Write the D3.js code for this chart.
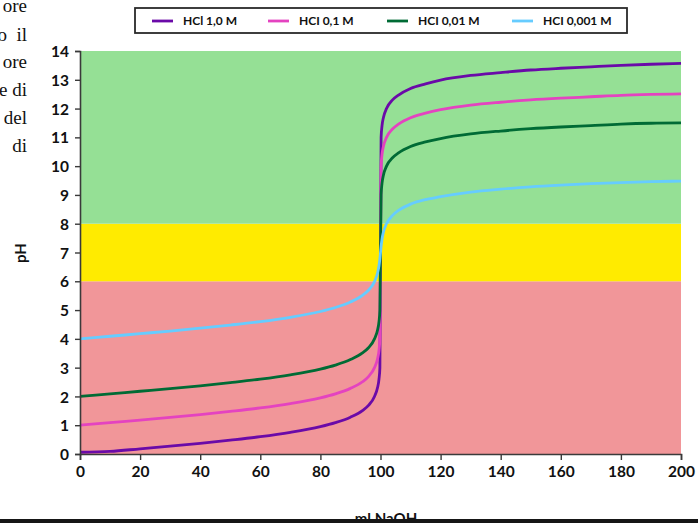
<!DOCTYPE html>
<html>
<head>
<meta charset="utf-8">
<script src="https://cdn.jsdelivr.net/npm/d3@7"></script>
<style>
  html, body { margin: 0; padding: 0; background: #fff; }
  svg { display: block; }
</style>
</head>
<body>
<svg id="chart" width="698" height="523"></svg>
<script>
// Titration volumes (ml NaOH) at which pH is sampled
const volumes = [0, 10, 20, 30, 40, 50, 60, 70, 80, 85, 90, 94, 96, 98, 99, 99.5, 99.8,
  100, 100.2, 100.5, 101, 102, 104, 106, 110, 115, 120, 130, 140, 150, 160, 170, 180, 190, 200];

const seriesNames = ["HCl 1,0 M", "HCI 0,1 M", "HCI 0,01 M", "HCI 0,001 M"];
const seriesColors = ["#6a0aa8", "#e443c0", "#006b35", "#66ccff"];

const ph_1_0 = [0.06, 0.09, 0.18, 0.27, 0.37, 0.48, 0.60, 0.75, 0.95, 1.09, 1.28, 1.51, 1.69, 2.00, 2.30, 2.60, 3.00,
  7.00, 11.00, 11.40, 11.70, 12.00, 12.30, 12.47, 12.70, 12.86, 12.99, 13.15, 13.25, 13.34, 13.40, 13.45, 13.50, 13.54, 13.57];
const ph_0_1 = [1.00, 1.09, 1.18, 1.27, 1.37, 1.48, 1.60, 1.75, 1.95, 2.09, 2.28, 2.51, 2.69, 3.00, 3.30, 3.60, 4.00,
  7.00, 10.00, 10.40, 10.70, 11.00, 11.29, 11.46, 11.68, 11.84, 11.96, 12.12, 12.22, 12.30, 12.36, 12.41, 12.46, 12.49, 12.51];
const ph_0_01 = [2.00, 2.09, 2.18, 2.27, 2.37, 2.48, 2.60, 2.75, 2.95, 3.09, 3.28, 3.51, 3.69, 4.00, 4.30, 4.60, 5.00,
  7.00, 9.00, 9.40, 9.70, 10.00, 10.29, 10.46, 10.68, 10.84, 10.96, 11.12, 11.22, 11.30, 11.36, 11.41, 11.46, 11.49, 11.50];
const ph_0_001 = [4.00, 4.09, 4.18, 4.27, 4.37, 4.48, 4.60, 4.75, 4.95, 5.09, 5.28, 5.51, 5.69, 5.99, 6.28, 6.54, 6.79,
  7.00, 7.21, 7.46, 7.72, 8.00, 8.29, 8.46, 8.68, 8.84, 8.94, 9.10, 9.20, 9.28, 9.34, 9.39, 9.43, 9.46, 9.48];

// Background pH zones: acidic, neutral, basic
const zoneLimits = [0, 6, 8, 14];
const zoneColors = ["#f19699", "#ffeb00", "#95e095"];

const xTicks = d3.range(0, 201, 20);
const yTicks = d3.range(0, 15, 1);

const svg = d3.select("#chart");
const plotLeft = 80, plotRight = 681, plotTop = 51, plotBottom = 454;

const x = d3.scaleLinear().domain([0, 200]).range([plotLeft, plotRight]);
const y = d3.scaleLinear().domain([0, 14]).range([plotBottom, plotTop]);

// Cropped paragraph from the surrounding page
const paraLines = [["ore", 12], ["o  il", 41], ["ore", 68], ["e di", 96], ["del", 124], ["di", 152]];
svg.append("g").selectAll("text").data(paraLines).join("text")
  .attr("x", 27).attr("y", d => d[1])
  .attr("text-anchor", "end")
  .attr("font-family", "'Liberation Serif', 'Times New Roman', serif")
  .attr("font-size", 19)
  .attr("fill", "#111")
  .style("white-space", "pre")
  .text(d => d[0]);

// Zones
svg.append("g").selectAll("rect").data(zoneColors).join("rect")
  .attr("x", x(0))
  .attr("width", x(200) - x(0))
  .attr("y", (d, i) => y(zoneLimits[i + 1]))
  .attr("height", (d, i) => y(zoneLimits[i]) - y(zoneLimits[i + 1]))
  .attr("fill", d => d);

// Curves
const allSeries = [ph_1_0, ph_0_1, ph_0_01, ph_0_001];
const line = d3.line()
  .x(d => x(d[0]))
  .y(d => y(d[1]))
  .curve(d3.curveMonotoneX);

svg.append("g").selectAll("path").data(allSeries).join("path")
  .attr("d", s => line(volumes.map((v, i) => [v, s[i]])))
  .attr("fill", "none")
  .attr("stroke", (d, i) => seriesColors[i])
  .attr("stroke-width", 2.8)
  .attr("stroke-linejoin", "round");

// Axes
const axisFont = "Lato, 'Open Sans', sans-serif";
const gx = svg.append("g")
  .attr("transform", `translate(0,${plotBottom})`)
  .call(d3.axisBottom(x).tickValues(xTicks).tickSize(6).tickPadding(6));
const gy = svg.append("g")
  .attr("transform", `translate(${plotLeft},0)`)
  .call(d3.axisLeft(y).tickValues(yTicks).tickSize(5).tickPadding(6));

[gx, gy].forEach(g => {
  g.select(".domain").attr("stroke", "#3a3a3a").attr("stroke-width", 1.6);
  g.selectAll(".tick line").attr("stroke", "#3a3a3a").attr("stroke-width", 1.4);
  g.selectAll(".tick text")
    .attr("font-family", axisFont)
    .attr("font-weight", "bold")
    .attr("font-size", 15.5)
    .attr("fill", "#111");
});
gy.selectAll(".tick text").attr("dy", "0.36em");

// Axis titles
svg.append("text")
  .attr("transform", "translate(26,253) rotate(-90)")
  .attr("text-anchor", "middle")
  .attr("font-family", axisFont)
  .attr("font-weight", "bold")
  .attr("font-size", 15)
  .attr("fill", "#111")
  .text("pH");

svg.append("text")
  .attr("x", 386).attr("y", 524)
  .attr("text-anchor", "middle")
  .attr("font-family", axisFont)
  .attr("font-weight", "bold")
  .attr("font-size", 15)
  .attr("fill", "#111")
  .text("ml NaOH");

// Page rule along the bottom edge
svg.append("rect")
  .attr("x", 0).attr("y", 519).attr("width", 698).attr("height", 4)
  .attr("fill", "#161616");

// Legend
const legendX = [152, 268, 387, 512];
const legend = svg.append("g");
legend.append("rect")
  .attr("x", 135).attr("y", 8).attr("width", 492).attr("height", 25)
  .attr("fill", "#fff")
  .attr("stroke", "#2a2a2a")
  .attr("stroke-width", 1.8);
const items = legend.selectAll("g.item").data(seriesNames).join("g")
  .attr("class", "item")
  .attr("transform", (d, i) => `translate(${legendX[i]},21)`);
items.append("line")
  .attr("x1", 0).attr("x2", 21)
  .attr("stroke", (d, i) => seriesColors[i])
  .attr("stroke-width", 2.8);
items.append("text")
  .attr("x", 31).attr("dy", "0.36em")
  .attr("font-family", axisFont)
  .attr("font-weight", "bold")
  .attr("font-size", 12)
  .attr("fill", "#111")
  .text(d => d);
</script>
</body>
</html>
